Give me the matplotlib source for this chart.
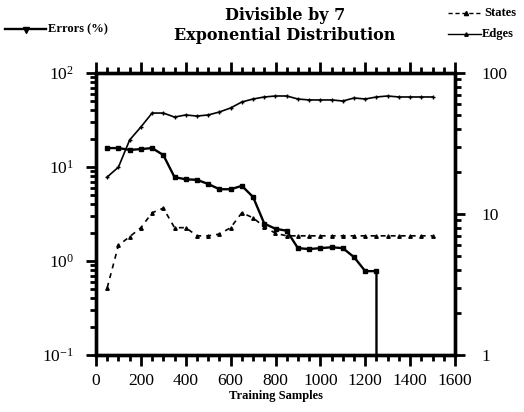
import numpy as np
import matplotlib
matplotlib.use("Agg")
import matplotlib.pyplot as plt
from matplotlib.lines import Line2D
from matplotlib.ticker import LogLocator, MultipleLocator, FixedLocator, NullFormatter

# ---- data ----
samples = [50, 100, 150, 200, 250, 300, 350, 400, 450, 500, 550, 600, 650, 700,
           750, 800, 850, 900, 950, 1000, 1050, 1100, 1150, 1200, 1250, 1300,
           1350, 1400, 1450, 1500]

error_samples = samples[:26]
errors_pct = [15.9, 15.9, 15.2, 15.5, 15.9, 13.4, 7.8, 7.4, 7.3, 6.6, 5.8, 5.8, 6.3,
              4.8, 2.5, 2.2, 2.1, 1.37, 1.34, 1.37, 1.4, 1.37, 1.1, 0.78, 0.78, 0.0]

states = [3.0, 6.0, 6.9, 8.0, 10.2, 11.0, 8.0, 8.0, 7.0, 7.0, 7.2, 8.0, 10.2, 9.4,
          8.1, 7.3, 7.0, 7.0, 7.0, 7.0, 7.0, 7.0, 7.0, 7.0, 7.0, 7.0, 7.0, 7.0, 7.0, 7.0]

edges = [18.3, 21.5, 33.5, 41.4, 52.0, 52.0, 48.7, 50.4, 49.5, 50.4, 52.9, 56.5, 62.3,
         65.4, 67.6, 68.7, 68.7, 65.4, 64.4, 64.4, 64.4, 63.3, 66.5, 65.4, 67.6, 68.7,
         67.6, 67.6, 67.6, 67.6]

x_ticks = [0, 200, 400, 600, 800, 1000, 1200, 1400, 1600]
title_lines = ["Divisible by 7", "Exponential Distribution"]
xlabel = "Training Samples"

# ---- figure ----
plt.rcParams['font.family'] = ['Liberation Serif', 'DejaVu Serif']
plt.rcParams['mathtext.fontset'] = 'stix'
fig = plt.figure(figsize=(5.24, 4.12), dpi=100)
ax = fig.add_axes([96/524, 1-355/412, (455-96)/524, (355-73)/412])
ax2 = ax.twinx()

lw_axis = 2.4
for a in (ax, ax2):
    for s in a.spines.values():
        s.set_linewidth(lw_axis)

ax.plot(error_samples, errors_pct, color='black', lw=1.7, marker='s', ms=2.5)
ax.set_yscale('log', nonpositive='clip')
ax.set_ylim(0.1, 100)
ax.set_xlim(0, 1600)

ax2.plot(samples, states, color='black', lw=1.2, ls=(0, (3, 3)), marker='^', ms=2.5)
ax2.plot(samples, edges, color='black', lw=1.2, marker='+', ms=3)
ax2.set_yscale('log')
ax2.set_ylim(1, 100)

# ticks
ax.xaxis.set_major_locator(FixedLocator(x_ticks))
ax.xaxis.set_minor_locator(MultipleLocator(50))
ax.tick_params(axis='x', which='both', direction='out', top=True, bottom=True,
               labeltop=False, width=2.0)
ax.tick_params(axis='x', which='major', length=8, labelsize=12.5, pad=5)
ax.tick_params(axis='x', which='minor', length=4.5)
ax.yaxis.set_major_locator(LogLocator(base=10, numticks=10))
ax.yaxis.set_minor_locator(LogLocator(base=10, subs=np.arange(2, 10), numticks=10))
ax.yaxis.set_minor_formatter(NullFormatter())
ax.tick_params(axis='y', which='both', direction='out', width=2.0, labelsize=12.5)
ax.tick_params(axis='y', which='major', length=7, pad=9)
ax.tick_params(axis='y', which='minor', length=4)

ax2.set_yticks([1, 10, 100])
ax2.set_yticklabels(['1', '10', '100'])
ax2.yaxis.set_minor_locator(LogLocator(base=10, subs=np.arange(2, 10), numticks=10))
ax2.yaxis.set_minor_formatter(NullFormatter())
ax2.tick_params(axis='y', which='both', direction='out', width=2.0, labelsize=12.5)
ax2.tick_params(axis='y', which='major', length=7, pad=12)
ax2.tick_params(axis='y', which='minor', length=4)

ax.set_xlabel(xlabel, fontsize=9, fontweight='bold', labelpad=1)

# title
for i, line in enumerate(title_lines):
    fig.text(285/524, 1-(15 + 21*i)/412, line, ha='center', va='center',
             fontsize=11.5, fontweight='bold', family='DejaVu Serif')

# legends (manual)
fig.add_artist(Line2D([5/524, 46/524], [1-29/412, 1-29/412], color='black', lw=1.7,
                      transform=fig.transFigure))
fig.add_artist(Line2D([26/524], [1-30/412], color='black', marker='v', ms=4.5,
                      transform=fig.transFigure))
fig.text(48/524, 1-29/412, "Errors (%)", ha='left', va='center', fontsize=9,
         fontweight='bold')

fig.add_artist(Line2D([448/524, 481/524], [1-13/412, 1-13/412], color='black', lw=1.0,
                      ls=(0, (3, 2)), transform=fig.transFigure))
fig.add_artist(Line2D([466/524], [1-13/412], color='black', marker='^', ms=3,
                      transform=fig.transFigure))
fig.text(484/524, 1-13/412, "States", ha='left', va='center', fontsize=9,
         fontweight='bold')

fig.add_artist(Line2D([448/524, 481/524], [1-34/412, 1-34/412], color='black', lw=1.0,
                      transform=fig.transFigure))
fig.add_artist(Line2D([466/524], [1-34/412], color='black', marker='^', ms=2.5,
                      transform=fig.transFigure))
fig.text(482/524, 1-34/412, "Edges", ha='left', va='center', fontsize=9,
         fontweight='bold')

fig.savefig('out.png', dpi=100)
